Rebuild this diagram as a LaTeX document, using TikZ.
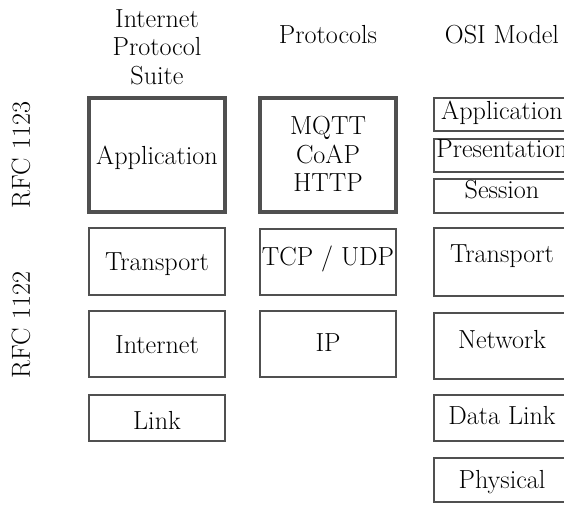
\documentclass[tikz,border=0pt]{standalone}
\newlength\pxu
\setlength\pxu{0.75pt}
\definecolor{edge}{RGB}{80,80,80}
\begin{document}
\begin{tikzpicture}[x=0.75pt,y=-0.75pt,
  font=\fontsize{19.6}{21.4}\selectfont,
  layer/.style={draw=edge, line width=1.7pt, minimum width=136\pxu, inner sep=0pt},
  core/.style={layer, line width=2.5pt},
  lbl/.style={anchor=base, inner sep=0pt},
  head/.style={align=center, inner sep=0pt},
]
\useasboundingbox (0,0) rectangle (564,504);

% column headings
\node[head, anchor=north] (hIPS) at (157,9) {Internet\\Protocol\\Suite};
\node[lbl] (hProt) at (328,43) {Protocols};
\node[lbl] (hOSI) at (502,43) {OSI Model};

% RFC labels
\node[rotate=90, inner sep=0pt] (rfcA) at (21,155) {RFC 1123};
\node[rotate=90, inner sep=0pt] (rfcB) at (21,325) {RFC 1122};

% Internet Protocol Suite
\node[core, minimum height=114\pxu] (ipsApp) at (157,155) {};
\node[layer, minimum height=67\pxu] (ipsTra) at (157,261.5) {};
\node[layer, minimum height=66\pxu] (ipsNet) at (157,344) {};
\node[layer, minimum height=46\pxu] (ipsLnk) at (157,418) {};
\node[lbl] (ipsAppT) at (157,164) {Application};
\node[lbl] (ipsTraT) at (157,270) {Transport};
\node[lbl] (ipsNetT) at (157,353) {Internet};
\node[lbl] (ipsLnkT) at (157,429) {Link};

% Protocols
\node[core, minimum height=114\pxu] (prApp) at (328,155) {};
\node[layer, minimum height=66\pxu] (prTra) at (328,262) {};
\node[layer, minimum height=66\pxu] (prNet) at (328,344) {};
\node[head, anchor=north] (prAppT) at (328,116) {MQTT\\CoAP\\HTTP};
\node[lbl] (prTraT) at (328,265) {TCP / UDP};
\node[lbl] (prNetT) at (328,351) {IP};

% OSI Model
\node[layer, minimum height=33\pxu] (osiApp) at (502,114.5) {};
\node[layer, minimum height=33\pxu] (osiPre) at (502,155.5) {};
\node[layer, minimum height=34\pxu] (osiSes) at (502,196) {};
\node[layer, minimum height=68\pxu] (osiTra) at (502,262) {};
\node[layer, minimum height=66\pxu] (osiNet) at (502,346) {};
\node[layer, minimum height=46\pxu] (osiDat) at (502,418) {};
\node[layer, minimum height=44\pxu] (osiPhy) at (502,480) {};
\node[lbl] (osiAppT) at (502,119) {Application};
\node[lbl] (osiPreT) at (502,157) {Presentation};
\node[lbl] (osiSesT) at (502,198) {Session};
\node[lbl] (osiTraT) at (502,262) {Transport};
\node[lbl] (osiNetT) at (502,348) {Network};
\node[lbl] (osiDatT) at (502,424) {Data Link};
\node[lbl] (osiPhyT) at (502,488) {Physical};
\end{tikzpicture}
\end{document}
